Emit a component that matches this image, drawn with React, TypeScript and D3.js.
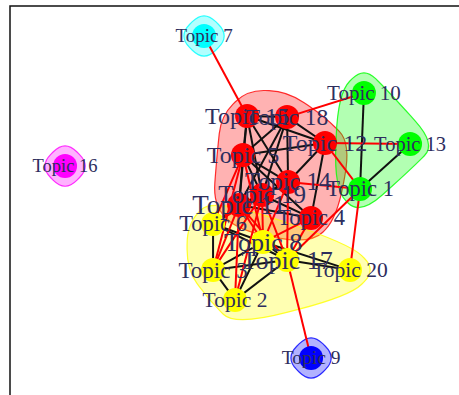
import * as d3 from "d3";
import { useEffect, useRef } from "react";

// topic network: layout coordinates (-1..1), community, label size
const topics = [
  "Topic 1", "Topic 2", "Topic 3", "Topic 4", "Topic 5", "Topic 6", "Topic 7",
  "Topic 8", "Topic 9", "Topic 10", "Topic 11", "Topic 12", "Topic 13", "Topic 14",
  "Topic 15", "Topic 16", "Topic 17", "Topic 18", "Topic 19", "Topic 20",
];
const layoutX = [
  0.61, 0.0, -0.107, 0.371, 0.039, -0.107, -0.151, 0.137, 0.371, 0.629,
  0.02, 0.439, 0.854, 0.259, 0.059, -0.829, 0.254, 0.254, 0.132, 0.561,
];
const layoutY = [
  0.048, -0.577, -0.408, -0.115, 0.239, -0.149, 0.91, -0.251, -0.904, 0.589,
  -0.042, 0.307, 0.301, 0.087, 0.459, 0.177, -0.352, 0.453, 0.014, -0.408,
];
const groupOf = [2, 1, 1, 0, 0, 1, 3, 1, 4, 2, 0, 0, 2, 0, 0, 5, 1, 0, 0, 1];
const groupColors = ["#FF0000", "#FFFF00", "#00FF00", "#00FFFF", "#0000FF", "#FF00FF"];
const labelSize = [
  22.5, 21.5, 23, 22.5, 24, 22.5, 19, 26, 19.5, 21,
  27, 24, 20.5, 24.5, 24, 18.5, 26, 23.5, 25, 21.5,
];
// edges by topic number
const edgeList: [number, number][] = [
  [15, 18], [15, 5], [15, 12], [15, 14], [15, 11], [15, 19],
  [18, 5], [18, 12], [18, 11], [18, 19], [18, 14],
  [5, 12], [5, 14], [5, 11], [5, 19], [5, 4],
  [12, 14], [12, 4], [14, 19], [14, 11], [19, 11], [19, 4], [11, 4],
  [6, 3], [6, 8], [6, 17], [3, 8], [3, 17], [3, 2], [2, 8], [2, 17],
  [8, 17], [8, 20], [17, 20],
  [10, 1], [13, 1],
  [7, 15], [18, 10], [12, 13], [12, 1], [14, 1], [1, 20], [1, 17], [17, 9],
  [5, 6], [5, 3], [11, 6], [11, 3], [11, 8], [11, 2], [11, 17],
  [19, 6], [19, 8], [19, 17], [19, 2], [19, 3],
  [14, 8], [14, 17], [4, 8], [4, 17], [5, 8],
];

const W = 459;
const H = 395;

const App = () => {
  const svgRef = useRef(null);

  useEffect(() => {
    const svg = d3.select(svgRef.current);
    svg.selectAll("*").remove();
    svg.attr("width", W).attr("height", H);

    const x = d3.scaleLinear().domain([-1, 1]).range([30, 440]);
    const y = d3.scaleLinear().domain([-1, 1]).range([375, 20]);
    const nodes = topics.map((t, i) => ({
      name: t,
      px: x(layoutX[i]),
      py: y(layoutY[i]),
      g: groupOf[i],
      size: labelSize[i],
    }));

    // frame
    svg.append("rect")
      .attr("x", 10).attr("y", 6)
      .attr("width", 480).attr("height", 420)
      .attr("fill", "none")
      .attr("stroke", "#111")
      .attr("stroke-width", 1.5);

    // group hulls (expanded convex hull, rounded corners)
    const expand = 26;
    const t = 0.45;
    const hullPath = (pts: [number, number][]) => {
      const hull = d3.polygonHull(pts) as [number, number][];
      const n = hull.length;
      const p = d3.path();
      const lerp = (a: [number, number], b: [number, number], k: number) =>
        [a[0] + (b[0] - a[0]) * k, a[1] + (b[1] - a[1]) * k];
      for (let i = 0; i < n; i++) {
        const v = hull[i];
        const prev = hull[(i - 1 + n) % n];
        const next = hull[(i + 1) % n];
        const a = lerp(v, prev, t);
        const b = lerp(v, next, t);
        if (i === 0) p.moveTo(a[0], a[1]);
        else p.lineTo(a[0], a[1]);
        p.quadraticCurveTo(v[0], v[1], b[0], b[1]);
      }
      p.closePath();
      return p.toString();
    };

    groupColors.forEach((col, gi) => {
      const pts: [number, number][] = [];
      nodes.filter((d) => d.g === gi).forEach((d) => {
        pts.push([d.px - expand, d.py], [d.px + expand, d.py],
          [d.px, d.py - expand], [d.px, d.py + expand]);
      });
      const c = d3.color(col)!.rgb();
      svg.append("path")
        .attr("d", hullPath(pts))
        .attr("fill", `rgba(${c.r},${c.g},${c.b},0.3)`)
        .attr("stroke", col)
        .attr("stroke-opacity", 0.8)
        .attr("stroke-width", 1.2);
    });

    // edges
    svg.append("g")
      .selectAll("line")
      .data(edgeList)
      .join("line")
      .attr("x1", (d) => nodes[d[0] - 1].px)
      .attr("y1", (d) => nodes[d[0] - 1].py)
      .attr("x2", (d) => nodes[d[1] - 1].px)
      .attr("y2", (d) => nodes[d[1] - 1].py)
      .attr("stroke", (d) => nodes[d[0] - 1].g === nodes[d[1] - 1].g ? "#111" : "#FF0000")
      .attr("stroke-width", 2);

    // vertices
    svg.append("g")
      .selectAll("circle")
      .data(nodes)
      .join("circle")
      .attr("cx", (d) => d.px)
      .attr("cy", (d) => d.py)
      .attr("r", 12)
      .attr("fill", (d) => groupColors[d.g]);

    // labels
    svg.append("g")
      .attr("font-family", "'Liberation Serif', 'DejaVu Serif', serif")
      .attr("text-anchor", "middle")
      .selectAll("text")
      .data(nodes)
      .join("text")
      .attr("x", (d) => d.px)
      .attr("y", (d) => d.py)
      .attr("dy", "0.33em")
      .attr("font-size", (d) => d.size)
      .attr("fill", "#2e2e5e")
      .text((d) => d.name);
  }, []);

  return (
    <svg ref={svgRef} style={{ position: "absolute", left: 0, top: 0 }}></svg>
  );
};

export default App;
